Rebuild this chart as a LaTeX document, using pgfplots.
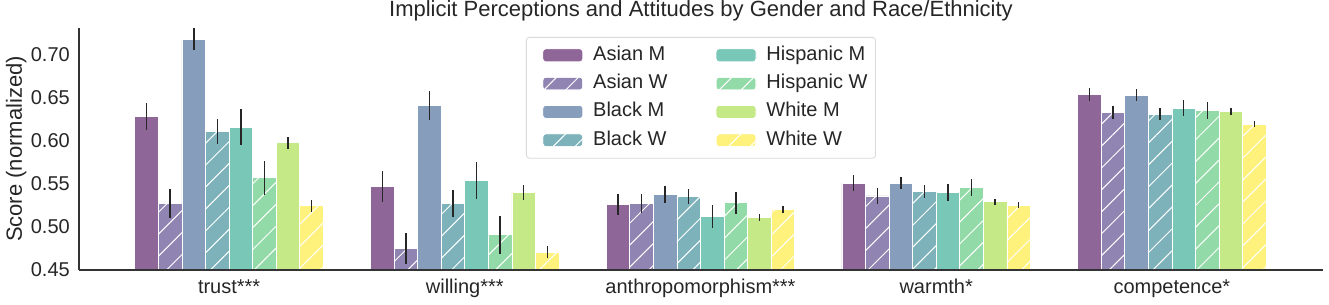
\documentclass[border=0pt]{standalone}
\usepackage{pgfplots}
\pgfplotsset{compat=1.18}
\usepackage{fontspec}
\setmainfont{Liberation Sans}
\usetikzlibrary{patterns.meta}
\definecolor{cAM}{RGB}{143,102,152}
\definecolor{cAW}{RGB}{144,132,178}
\definecolor{cBM}{RGB}{134,157,187}
\definecolor{cBW}{RGB}{125,178,187}
\definecolor{cHM}{RGB}{121,199,183}
\definecolor{cHW}{RGB}{146,218,167}
\definecolor{cWM}{RGB}{198,233,136}
\definecolor{cWW}{RGB}{254,241,124}
\definecolor{txt}{RGB}{38,38,38}
\definecolor{spine}{RGB}{51,51,51}
\pgfplotsset{
  mbar/.style={fill=#1, draw=white, line width=0.8bp},
  wbar/.style={fill=#1, draw=white, line width=0.8bp,
    postaction={pattern color=white, pattern={Lines[angle=45,distance=15.5bp,line width=1bp]}}},
}
\begin{document}
\begin{tikzpicture}
\path[use as bounding box] (-79bp,-35bp) rectangle (1250bp,270bp);
\begin{axis}[
  at={(0,0)}, anchor=south west,
  scale only axis, width=1244bp, height=242bp,
  axis on top,
  ybar, bar width=0.1,
  xmin=-0.637, xmax=4.641,
  ymin=0.45, ymax=0.731,
  axis x line*=bottom, axis y line*=left,
  axis line style={-, draw=spine, line width=1.25bp},
  major tick length=0pt,
  xtick={0,1,2,3,4},
  xticklabels={trust***, willing***, anthropomorphism***, warmth*, competence*},
  ytick={0.45,0.50,0.55,0.60,0.65,0.70},
  /pgf/number format/fixed, /pgf/number format/fixed zerofill, /pgf/number format/precision=2, /pgf/number format/assume math mode=true,
  yticklabel style={anchor=east, inner sep=0pt, xshift=-9bp, font=\fontsize{20bp}{24bp}\selectfont, text=txt},
  xticklabel style={anchor=base, inner sep=0pt, yshift=-23bp, font=\fontsize{20bp}{24bp}\selectfont, text=txt},
  title={Implicit Perceptions and Attitudes by Gender and Race/Ethnicity},
  title style={at={(axis description cs:0.5,1)}, anchor=base, yshift=5.3bp, inner sep=0pt, font=\fontsize{22bp}{26bp}\selectfont, text=txt},
  ylabel={Score (normalized)},
  every axis y label/.style={at={(axis description cs:-0.04582,0.5)}, rotate=90, anchor=base, inner sep=0pt, font=\fontsize{22bp}{26bp}\selectfont, text=txt},
  error bars/y dir=both, error bars/y explicit,
  error bars/error mark=none,
  error bars/error bar style={draw=black!85, line width=1.5bp},
  legend image code/.code={\path (0bp,0bp); \draw[#1] (8bp,-6.5bp) rectangle (48bp,6.5bp);},
  transpose legend,
  legend columns=4,
  legend cell align=left,
  legend style={at={(axis description cs:0.5,0.963)}, anchor=north,
    draw=black!15, line width=0.8bp, rounded corners=3bp, fill=white,
    inner xsep=8bp, inner ysep=3.8bp,
    font=\fontsize{20bp}{24bp}\selectfont, text=txt,
    nodes={inner xsep=0pt, inner ysep=4.65bp, text height=14.5bp, text depth=4.5bp},
    /tikz/every odd column/.append style={column sep=10bp},
    /tikz/every even column/.append style={column sep=40bp}},
]
\addplot[mbar=cAM, bar shift=-0.35] coordinates {(0,0.628) +- (0,0.016) (1,0.547) +- (0,0.018) (2,0.526) +- (0,0.0125) (3,0.551) +- (0,0.009) (4,0.654) +- (0,0.0073)};
\addlegendentry{Asian M}
\addplot[wbar=cAW, bar shift=-0.25] coordinates {(0,0.527) +- (0,0.017) (1,0.475) +- (0,0.018) (2,0.527) +- (0,0.011) (3,0.536) +- (0,0.009) (4,0.633) +- (0,0.008)};
\addlegendentry{Asian W}
\addplot[mbar=cBM, bar shift=-0.15] coordinates {(0,0.718) +- (0,0.0125) (1,0.641) +- (0,0.0164) (2,0.538) +- (0,0.010) (3,0.551) +- (0,0.0075) (4,0.653) +- (0,0.0073)};
\addlegendentry{Black M}
\addplot[wbar=cBW, bar shift=-0.05] coordinates {(0,0.611) +- (0,0.0147) (1,0.527) +- (0,0.016) (2,0.535) +- (0,0.0085) (3,0.541) +- (0,0.0073) (4,0.631) +- (0,0.0068)};
\addlegendentry{Black W}
\addplot[mbar=cHM, bar shift=0.05] coordinates {(0,0.616) +- (0,0.0205) (1,0.554) +- (0,0.0216) (2,0.512) +- (0,0.013) (3,0.540) +- (0,0.010) (4,0.638) +- (0,0.0093)};
\addlegendentry{Hispanic M}
\addplot[wbar=cHW, bar shift=0.15] coordinates {(0,0.557) +- (0,0.0195) (1,0.491) +- (0,0.022) (2,0.528) +- (0,0.013) (3,0.546) +- (0,0.0098) (4,0.635) +- (0,0.0102)};
\addlegendentry{Hispanic W}
\addplot[mbar=cWM, bar shift=0.25] coordinates {(0,0.598) +- (0,0.007) (1,0.540) +- (0,0.0083) (2,0.511) +- (0,0.0046) (3,0.5295) +- (0,0.0035) (4,0.634) +- (0,0.0037)};
\addlegendentry{White M}
\addplot[wbar=cWW, bar shift=0.35] coordinates {(0,0.5245) +- (0,0.0068) (1,0.4705) +- (0,0.007) (2,0.520) +- (0,0.004) (3,0.525) +- (0,0.0035) (4,0.619) +- (0,0.0035)};
\addlegendentry{White W}
\end{axis}
\end{tikzpicture}
\end{document}
